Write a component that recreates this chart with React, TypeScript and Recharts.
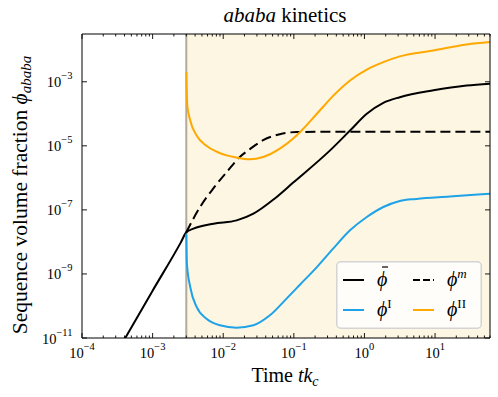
import { LineChart, Line, XAxis, YAxis, ReferenceArea, ReferenceLine, Legend, Label } from 'recharts'

// values (log-log axes)
const phiBarT = [4.1e-4, 1e-3, 2.5e-3, 3.0e-3, 3.8e-3, 7.3e-3, 0.0155, 0.0268, 0.0515, 0.098, 0.326, 0.625, 1.08, 1.85, 3.17, 9.5, 28, 60]
const phiBarV = [1e-11, 3.0e-10, 9.5e-9, 2.0e-8, 2.6e-8, 3.7e-8, 4.7e-8, 7.6e-8, 2.1e-7, 7.1e-7, 7.2e-6, 3.0e-5, 1.0e-4, 2.2e-4, 3.3e-4, 5.4e-4, 7.6e-4, 8.7e-4]

const phiMT = [3.0e-3, 4.7e-3, 7.2e-3, 0.0117, 0.0172, 0.0239, 0.0368, 0.0634, 0.109, 0.3, 60]
const phiMV = [2.0e-8, 1.23e-7, 4.6e-7, 1.7e-6, 4.5e-6, 7.9e-6, 1.5e-5, 2.3e-5, 2.7e-5, 2.75e-5, 2.75e-5]

const phiIT = [3.0e-3, 3.06e-3, 3.41e-3, 4.2e-3, 5.8e-3, 8.98e-3, 0.0155, 0.0268, 0.0458, 0.0789, 0.123, 0.212, 0.363, 0.625, 1.08, 1.85, 3.17, 5.45, 16.1, 60]
const phiIV = [1.8e-8, 2.1e-9, 3.9e-10, 9.3e-11, 4.0e-11, 2.5e-11, 2.1e-11, 2.5e-11, 5.1e-11, 1.7e-10, 4.7e-10, 1.64e-9, 6.3e-9, 2.3e-8, 6.0e-8, 1.23e-7, 1.9e-7, 2.2e-7, 2.6e-7, 3.2e-7]

const phiIIT = [3.0e-3, 3.1e-3, 3.41e-3, 4.2e-3, 5.8e-3, 8.98e-3, 0.0155, 0.0239, 0.0368, 0.0634, 0.098, 0.123, 0.212, 0.363, 0.625, 1.08, 1.85, 3.17, 9.5, 28, 60]
const phiIIV = [2.0e-3, 1.8e-4, 6.2e-5, 2.1e-5, 1.0e-5, 5.9e-6, 4.3e-6, 3.8e-6, 4.5e-6, 8.2e-6, 1.7e-5, 2.7e-5, 1.0e-4, 3.7e-4, 1.1e-3, 2.4e-3, 4.1e-3, 6.2e-3, 9.5e-3, 0.0146, 0.0173]

const xTickExps = [-4, -3, -2, -1, 0, 1]
const yTickExps = [-11, -9, -7, -5, -3]
const X_DOMAIN = [1e-4, 60]
const Y_DOMAIN = [1e-11, 0.031]
const SHADE_START = 3e-3

const SERIF = "'Liberation Serif', 'DejaVu Serif', serif"
const BLUE = '#1ea2e8'
const ORANGE = '#ffa800'

const zip = (t: number[], v: number[]) => t.map((x, i) => ({ x, y: v[i] }))

const series = [
  { key: 'bar', data: zip(phiBarT, phiBarV), color: '#000', dash: undefined },
  { key: 'm', data: zip(phiMT, phiMV), color: '#000', dash: '10 5' },
  { key: 'I', data: zip(phiIT, phiIV), color: BLUE, dash: undefined },
  { key: 'II', data: zip(phiIIT, phiIIV), color: ORANGE, dash: undefined },
]

// major + minor log ticks up to the domain end
const xTicks: number[] = []
for (const e of xTickExps) {
  for (let m = 1; m <= 9; m++) {
    const v = m * Math.pow(10, e)
    if (v <= X_DOMAIN[1]) xTicks.push(v)
  }
}
const yTicks = yTickExps.map((e) => Math.pow(10, e))

const expText = (e: number) => (e < 0 ? `\u2212${-e}` : `${e}`)

function isMajor(v: number) {
  const l = Math.log10(v)
  return Math.abs(l - Math.round(l)) < 1e-6
}

function XTick(props: any) {
  const { x, y, payload, side } = props
  const v = payload.value
  const major = isMajor(v)
  const len = major ? 5 : 2.5
  const dir = side === 'top' ? 1 : -1
  return (
    <g>
      <line x1={x} x2={x} y1={y} y2={y + dir * len} stroke="#000" strokeWidth={0.9} />
      {side === 'bottom' && major && (
        <text x={x} y={y + 20} textAnchor="middle" fontFamily={SERIF} fontSize={14.5} fill="#000">
          10
          <tspan dy={-8} fontSize={10.5}>
            {expText(Math.round(Math.log10(v)))}
          </tspan>
        </text>
      )}
    </g>
  )
}

function YTick(props: any) {
  const { x, y, payload, side } = props
  const e = Math.round(Math.log10(payload.value))
  const dir = side === 'left' ? 1 : -1
  return (
    <g>
      <line x1={x} x2={x + dir * 5} y1={y} y2={y} stroke="#000" strokeWidth={0.9} />
      {side === 'left' && (
        <text x={x - 9.5} y={y + 5.5} textAnchor="end" fontFamily={SERIF} fontSize={14.5} fill="#000">
          10
          <tspan dy={-8} fontSize={10.5}>
            {expText(e)}
          </tspan>
        </text>
      )}
    </g>
  )
}

function TitleLabel() {
  return (
    <text x={285} y={22} textAnchor="middle" fontFamily={SERIF} fontSize={21} fill="#000">
      <tspan fontStyle="italic">ababa</tspan> kinetics
    </text>
  )
}

function XTitle() {
  return (
    <text x={285} y={382} textAnchor="middle" fontFamily={SERIF} fontSize={20} fill="#000">
      Time <tspan fontStyle="italic">tk</tspan>
      <tspan fontStyle="italic" fontSize={14} dy={4}>
        c
      </tspan>
    </text>
  )
}

function YTitle() {
  return (
    <text transform="translate(27,195) rotate(-90)" textAnchor="middle" fontFamily={SERIF} fontSize={21.5} fill="#000">
      Sequence volume fraction <tspan fontStyle="italic">ϕ</tspan>
      <tspan fontStyle="italic" fontSize={15} dy={4}>
        ababa
      </tspan>
    </text>
  )
}

function LegendBox() {
  const row1 = 25
  const row2 = 55
  const phi = (x: number, y: number, sup: string, italicSup: boolean, bar?: boolean) => (
    <g>
      {bar && <line x1={x + 5} x2={x + 11} y1={y - 19} y2={y - 19} stroke="#000" strokeWidth={1.2} />}
      <text x={x} y={y} fontFamily={SERIF} fontSize={20} fontStyle="italic" fill="#000">
        ϕ
        {sup && (
          <tspan dy={-8} fontSize={13} fontStyle={italicSup ? 'italic' : 'normal'}>
            {sup}
          </tspan>
        )}
      </text>
    </g>
  )
  return (
    <svg width={146} height={68} style={{ display: 'block' }}>
      <rect x={0.75} y={0.75} width={144.5} height={66.5} rx={4} fill="#ffffff" fillOpacity={0.8} stroke="#d4d4d4" strokeWidth={1.5} />
      <line x1={7} x2={28} y1={row1 - 6} y2={row1 - 6} stroke="#000" strokeWidth={2} />
      {phi(41, row1, '', false, true)}
      <line x1={77} x2={98} y1={row1 - 6} y2={row1 - 6} stroke="#000" strokeWidth={2} strokeDasharray="7 3" />
      {phi(111, row1, 'm', true)}
      <line x1={7} x2={28} y1={row2 - 6} y2={row2 - 6} stroke={BLUE} strokeWidth={2} />
      {phi(41, row2, 'I', false)}
      <line x1={77} x2={98} y1={row2 - 6} y2={row2 - 6} stroke={ORANGE} strokeWidth={2} />
      {phi(111, row2, 'II', false)}
    </svg>
  )
}

export default function App() {
  return (
    <div style={{ position: 'absolute', left: 0, top: 0, background: '#fff' }}>
      <LineChart width={498} height={397} margin={{ top: 33, right: 7, bottom: 0, left: 0 }}>
        <XAxis
          xAxisId={0}
          dataKey="x"
          type="number"
          scale="log"
          domain={X_DOMAIN}
          allowDataOverflow
          ticks={xTicks}
          interval={0}
          height={59}
          tickSize={0}
          tickMargin={0}
          tickLine={false}
          axisLine={{ stroke: '#000', strokeWidth: 1 }}
          tick={<XTick side="bottom" />}
          label={<Label content={XTitle} />}
        />
        <XAxis
          xAxisId="top"
          orientation="top"
          dataKey="x"
          type="number"
          scale="log"
          domain={X_DOMAIN}
          allowDataOverflow
          ticks={xTicks}
          interval={0}
          height={1}
          tickSize={0}
          tickMargin={0}
          tickLine={false}
          axisLine={{ stroke: '#000', strokeWidth: 1 }}
          tick={<XTick side="top" />}
          label={<Label content={TitleLabel} />}
        />
        <YAxis
          yAxisId={0}
          type="number"
          scale="log"
          domain={Y_DOMAIN}
          allowDataOverflow
          ticks={yTicks}
          interval={0}
          width={82}
          tickSize={0}
          tickMargin={0}
          tickLine={false}
          axisLine={{ stroke: '#000', strokeWidth: 1 }}
          tick={<YTick side="left" />}
          label={<Label content={YTitle} />}
        />
        <YAxis
          yAxisId="right"
          orientation="right"
          type="number"
          scale="log"
          domain={Y_DOMAIN}
          allowDataOverflow
          ticks={yTicks}
          interval={0}
          width={1}
          tickSize={0}
          tickMargin={0}
          tickLine={false}
          axisLine={{ stroke: '#000', strokeWidth: 1 }}
          tick={<YTick side="right" />}
        />
        <ReferenceArea x1={SHADE_START} x2={X_DOMAIN[1]} fill="#fdf6e3" fillOpacity={1} stroke="none" />
        <ReferenceLine x={SHADE_START} stroke="#b3aa98" strokeWidth={2} />
        {series.map((s) => (
          <Line
            key={s.key}
            data={s.data}
            dataKey="y"
            type="monotone"
            stroke={s.color}
            strokeWidth={2}
            strokeDasharray={s.dash}
            dot={false}
            activeDot={false}
            isAnimationActive={false}
          />
        ))}
        <Legend
          layout="vertical"
          align="center"
          verticalAlign="middle"
          content={LegendBox}
          wrapperStyle={{ left: 336, top: 261, width: 146, height: 68 }}
        />
      </LineChart>
    </div>
  )
}
